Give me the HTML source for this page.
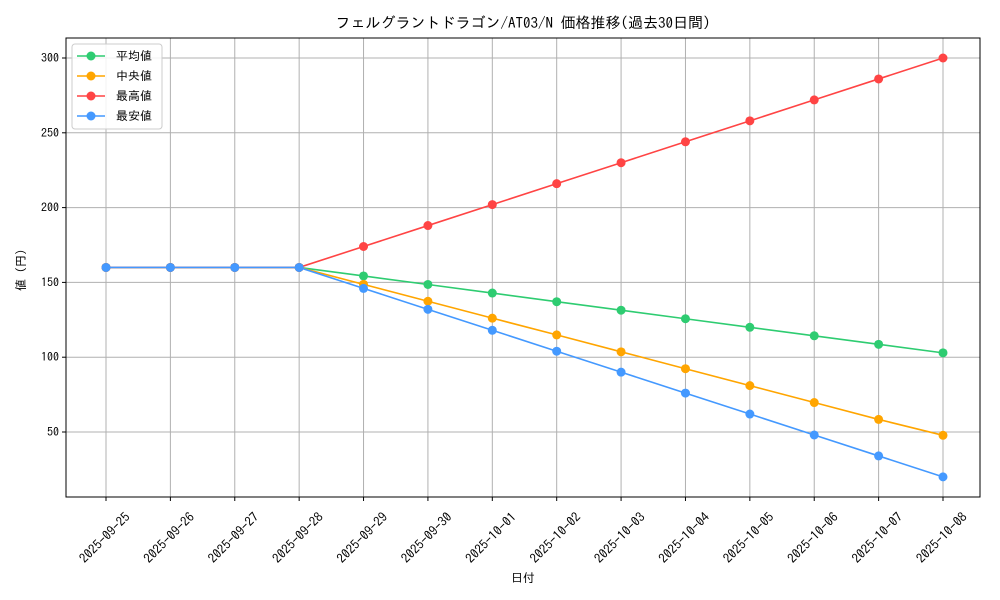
<!DOCTYPE html>
<html><head><meta charset="utf-8">
<style>
html,body{margin:0;padding:0;background:#fff;}
svg{display:block;font-family:"IPAGothic","Liberation Sans","Noto Sans CJK JP",sans-serif;}
</style></head>
<body>
<svg id="chart" width="1000" height="600" viewBox="0 0 1000 600" xmlns="http://www.w3.org/2000/svg">
<rect width="1000" height="600" fill="#fff"/>
<text x="523" y="28" text-anchor="middle" font-size="15">フェルグラントドラゴン/AT03/N 価格推移(過去30日間)</text>
<g id="grid"></g>
<g id="axes"></g>
<g id="series"></g>
<text x="523" y="582" text-anchor="middle" font-size="12">日付</text>
<text transform="translate(25,270) rotate(-90)" text-anchor="middle" font-size="12">値 (円)</text>
<g id="legend"></g>
</svg>
<script>
const categories=["2025-09-25","2025-09-26","2025-09-27","2025-09-28","2025-09-29","2025-09-30","2025-10-01","2025-10-02","2025-10-03","2025-10-04","2025-10-05","2025-10-06","2025-10-07","2025-10-08"];
const avgValues=[160,160,160,160,154.3,148.6,142.9,137.1,131.4,125.7,120,114.3,108.6,102.9];
const medianValues=[160,160,160,160,148.7,137.4,126.1,114.9,103.6,92.3,81,69.7,58.4,47.8];
const maxValues=[160,160,160,160,174,188,202,216,230,244,258,272,286,300];
const minValues=[160,160,160,160,146,132,118,104,90,76,62,48,34,20];
const yTicks=[50,100,150,200,250,300];
const seriesNames=["平均値","中央値","最高値","最安値"];
const seriesColors=["#2ecc71","#ffa500","#ff4444","#4499ff"];

const NS="http://www.w3.org/2000/svg";
const L=66,R=980,T=38,B=497;
function xs(i){return 106+i*(943-106)/(categories.length-1);}
function ys(v){return 506.8-v*1.496;}
function mk(tag,attrs,parent){const e=document.createElementNS(NS,tag);for(const k in attrs)e.setAttribute(k,attrs[k]);parent.appendChild(e);return e;}
const grid=document.getElementById('grid'),axes=document.getElementById('axes'),ser=document.getElementById('series'),leg=document.getElementById('legend');
categories.forEach((c,i)=>{
  const g=mk('line',{x1:xs(i),x2:xs(i),y1:T,y2:B,stroke:'#b0b0b0','stroke-width':1},grid);
  
  
  const tk=mk('line',{x1:xs(i),x2:xs(i),y1:B,y2:B+4,stroke:'#000'},axes);
  
  
  const cx=xs(i)-1,cy=538;
  const t=mk('text',{x:cx,y:cy+4,'font-size':13,'text-anchor':'middle',transform:`rotate(-45 ${cx} ${cy})`},axes);
  t.textContent=c;
  
  
});
yTicks.forEach(v=>{
  const g=mk('line',{x1:L,x2:R,y1:ys(v),y2:ys(v),stroke:'#b0b0b0','stroke-width':1},grid);
  
  
  const tk=mk('line',{x1:L-4,x2:L,y1:ys(v),y2:ys(v),stroke:'#000'},axes);
  
  
  const t=mk('text',{x:L-7,y:ys(v)+4,'font-size':12,'text-anchor':'end'},axes);
  t.textContent=v;
  
  
});
const frame=mk('rect',{x:L,y:T,width:R-L,height:B-T,fill:'none',stroke:'#000','stroke-width':1},axes);


const allSeries=[avgValues,medianValues,maxValues,minValues];
const keys=['average','median','max','min'];
allSeries.forEach((vals,si)=>{
  const g=mk('g',{},ser);
  
  
  const p=mk('polyline',{points:vals.map((v,i)=>xs(i)+','+ys(v)).join(' '),fill:'none',stroke:seriesColors[si],'stroke-width':1.6},g);
  
  
  vals.forEach((v,i)=>{
    const c=mk('circle',{cx:xs(i),cy:ys(v),r:4.5,fill:seriesColors[si]},g);
    
    
  });
});
const lb=mk('rect',{x:72,y:44,width:90,height:85,rx:3,fill:'#fff','fill-opacity':0.85,stroke:'#ccc'},leg);


seriesNames.forEach((n,i)=>{
  const y=56+i*20;
  const g=mk('g',{},leg);
  
  
  mk('line',{x1:77,x2:105,y1:y,y2:y,stroke:seriesColors[i],'stroke-width':1.6},g);
  mk('circle',{cx:91,cy:y,r:4.5,fill:seriesColors[i]},g);
  const t=mk('text',{x:116,y:y+4,'font-size':12},g);
  t.textContent=n;
});
</script>
</body></html>
